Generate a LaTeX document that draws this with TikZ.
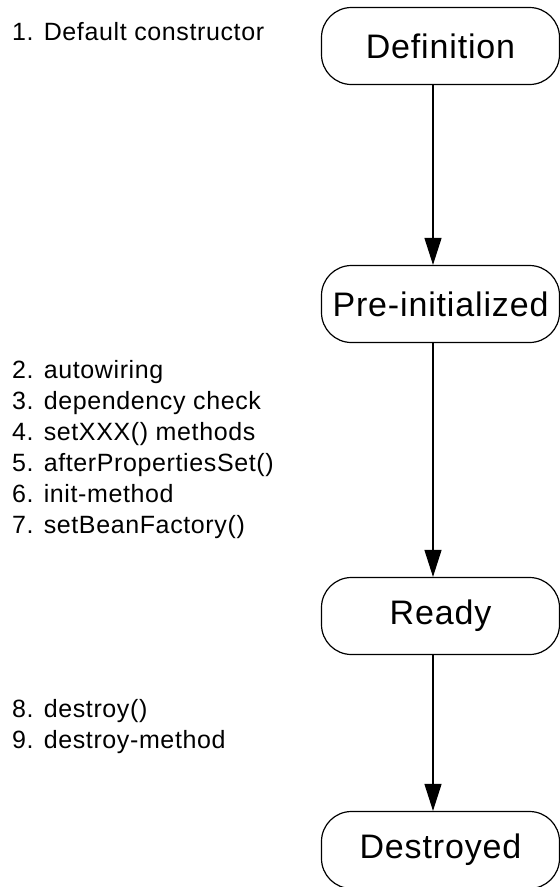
\documentclass[tikz,border=0pt]{standalone}
\usepackage{fontspec}
\setmainfont{Liberation Sans}[LetterSpace=2.5]
\usetikzlibrary{arrows.meta, positioning}

\begin{document}
\begin{tikzpicture}[x=1pt,y=1pt,on grid,>={Triangle[length=27pt,width=17pt]},
    phase/.style={draw,line width=1.2pt,rounded corners=30pt,minimum width=238pt,minimum height=77pt,font=\fontsize{34}{40}\selectfont},
    steps/.style={anchor=west,align=left,inner sep=0pt,font=\fontsize{25}{31}\selectfont}]
            \useasboundingbox (0,0) rectangle (560,-887);
            \node[phase] (def) at (440.5,-46) {Definition};
            \node[phase] (pre) [below=258pt of def] {Pre-initialized};
            \node[phase] (ready) [below=312pt of pre] {Ready};
            \node[phase] (destroyed) [below=234pt of ready] {Destroyed};
            \node[steps] (ctor) at (12,-32) {1. Default constructor};
            \node[steps] (props) at (12,-450) {2. autowiring\\3. dependency check\\4. setXXX() methods\\5. afterPropertiesSet()\\6. init-method\\7. setBeanFactory()};
            \node[steps] (cleanup) at (12,-727) {8. destroy()\\9. destroy-method};
            \draw[->,line width=1.2pt] ([xshift=-7.5pt]def.south) -- ([xshift=-7.5pt]pre.north);
            \draw[->,line width=1.2pt] ([xshift=-7.5pt]pre.south) -- ([xshift=-7.5pt]ready.north);
            \draw[->,line width=1.2pt] ([xshift=-7.5pt]ready.south) -- ([xshift=-7.5pt]destroyed.north);
        \end{tikzpicture}
\end{document}
